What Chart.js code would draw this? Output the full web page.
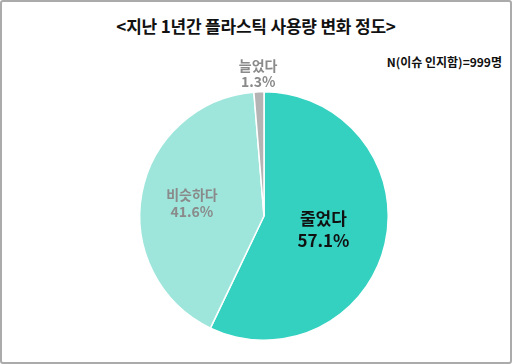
<!DOCTYPE html>
<html><head><meta charset="utf-8">
<script src="https://cdn.jsdelivr.net/npm/chart.js@4/dist/chart.umd.min.js"></script>
<style>
html,body{margin:0;padding:0;background:#fff;}
#wrap{position:relative;width:512px;height:364px;box-sizing:border-box;border:2px solid #ababab;border-radius:3px;overflow:hidden;font-family:"Noto Sans CJK KR","Noto Sans",sans-serif;}
#title{position:absolute;left:0;top:11px;width:508px;text-align:center;font-size:17px;font-weight:bold;color:#111;letter-spacing:-0.2px;}
#note{position:absolute;right:8px;top:51px;font-size:12px;font-weight:bold;color:#111;}
canvas{position:absolute;left:-2px;top:-2px;}
</style></head>
<body>
<div id="wrap">
<div id="title">&lt;지난 1년간 플라스틱 사용량 변화 정도&gt;</div>
<div id="note">N(이슈 인지함)=999명</div>
<canvas id="c" width="512" height="364"></canvas>
</div>
<script>
const categories = ['줄었다', '비슷하다', '늘었다'];
const values = [57.1, 41.6, 1.3];
const colors = ['#34d1c1', '#9ee6dc', '#b4b4b4'];

const labelStyle = [
  {r: 0.49, color: '#111111', size: 17, lh: 22},
  {r: 0.59, color: '#8a8a8a', size: 14, lh: 17},
  {r: 1.15, color: '#8a8a8a', size: 14, lh: 16}
];

const labelPlugin = {
  id: 'sliceLabels',
  afterDatasetsDraw(chart) {
    const ctx = chart.ctx;
    const meta = chart.getDatasetMeta(0);
    meta.data.forEach((arc, i) => {
      const p = arc.getProps(['x','y','startAngle','endAngle','outerRadius'], true);
      const mid = (p.startAngle + p.endAngle) / 2;
      const st = labelStyle[i];
      const cx = p.x + Math.cos(mid) * p.outerRadius * st.r;
      const cy = p.y + Math.sin(mid) * p.outerRadius * st.r;
      ctx.save();
      ctx.fillStyle = st.color;
      ctx.textAlign = 'center';
      ctx.textBaseline = 'middle';
      ctx.font = 'bold ' + st.size + 'px "Noto Sans CJK KR", sans-serif';
      ctx.fillText(categories[i], cx, cy - st.lh / 2);
      ctx.fillText(values[i].toFixed(1) + '%', cx, cy + st.lh / 2);
      ctx.restore();
    });
  }
};

new Chart(document.getElementById('c'), {
  type: 'pie',
  data: {
    labels: categories,
    datasets: [{
      data: values,
      backgroundColor: colors,
      borderColor: '#ffffff',
      borderWidth: 1.5
    }]
  },
  options: {
    responsive: false,
    animation: false,
    layout: {padding: {left: 139, right: 123, top: 91, bottom: 23}},
    plugins: {legend: {display: false}, tooltip: {enabled: false}}
  },
  plugins: [labelPlugin]
});
</script>
</body></html>
